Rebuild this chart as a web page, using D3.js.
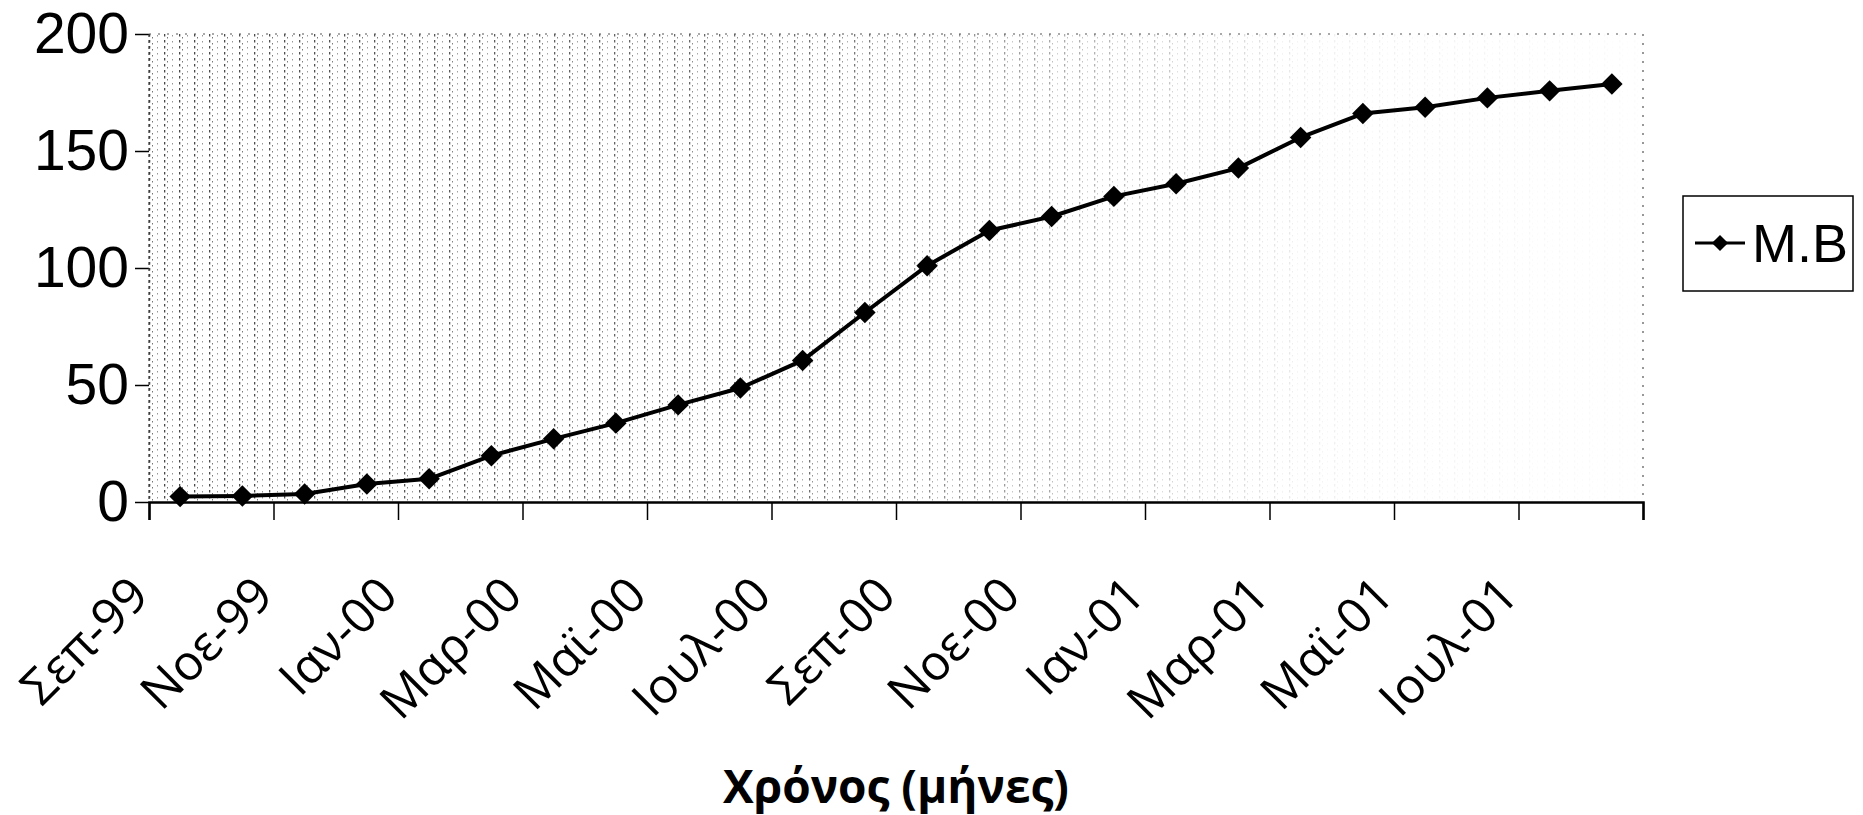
<!DOCTYPE html>
<html>
<head>
<meta charset="utf-8">
<script src="https://cdn.jsdelivr.net/npm/d3@7"></script>
<style>
  body { margin: 0; background: #fff; }
  svg { display: block; }
</style>
</head>
<body>
<div id="chart"></div>
<script>
// months on the category axis (every other one gets a label)
const months = ["Σεπ-99", "Οκτ-99", "Νοε-99", "Δεκ-99", "Ιαν-00", "Φεβ-00", "Μαρ-00", "Απρ-00",
  "Μαϊ-00", "Ιουν-00", "Ιουλ-00", "Αυγ-00", "Σεπ-00", "Οκτ-00", "Νοε-00", "Δεκ-00",
  "Ιαν-01", "Φεβ-01", "Μαρ-01", "Απρ-01", "Μαϊ-01", "Ιουν-01", "Ιουλ-01", "Αυγ-01"];
const mbValues = [2.3, 2.6, 3.4, 7.7, 9.9, 19.8, 27, 33.7, 41.5, 48.7, 60.5, 81,
  101, 116, 122, 130.6, 136, 142.7, 155.8, 166, 168.7, 172.7, 175.7, 178.6];
const yTicks = [0, 50, 100, 150, 200];
const seriesName = "M.B";
const xTitle = "Χρόνος (μήνες)";

const width = 1863;
const height = 815;
const margin = {top: 34, right: 220, bottom: 313, left: 149};
const visWidth = width - margin.left - margin.right;
const visHeight = height - margin.top - margin.bottom;

const data = months.map((m, i) => ({month: m, value: mbValues[i]}));

const svg = d3.select("#chart")
  .append("svg")
    .attr("width", width)
    .attr("height", height);

// scanned-looking stipple in the plot area, fading to the right
const defs = svg.append("defs");
const pat = defs.append("pattern")
    .attr("id", "stipple")
    .attr("patternUnits", "userSpaceOnUse")
    .attr("width", 15)
    .attr("height", 6);
pat.append("rect").attr("x", 0).attr("y", 0).attr("width", 1.3).attr("height", 2.5).attr("fill", "#333");
pat.append("rect").attr("x", 3).attr("y", 3).attr("width", 1).attr("height", 1.5).attr("fill", "#666");
pat.append("rect").attr("x", 8).attr("y", 1).attr("width", 1).attr("height", 1.5).attr("fill", "#888");

const grad = defs.append("linearGradient").attr("id", "fade");
grad.append("stop").attr("offset", "0%").attr("stop-color", "#fff").attr("stop-opacity", 0.9);
grad.append("stop").attr("offset", "45%").attr("stop-color", "#fff").attr("stop-opacity", 0.7);
grad.append("stop").attr("offset", "62%").attr("stop-color", "#fff").attr("stop-opacity", 0.4);
grad.append("stop").attr("offset", "78%").attr("stop-color", "#fff").attr("stop-opacity", 0.08);
grad.append("stop").attr("offset", "100%").attr("stop-color", "#fff").attr("stop-opacity", 0.02);
defs.append("mask").attr("id", "fadeMask")
  .append("rect")
    .attr("width", visWidth)
    .attr("height", visHeight)
    .attr("fill", "url(#fade)");

const g = svg.append("g")
    .attr("transform", "translate(" + margin.left + "," + margin.top + ")");

g.append("rect")
    .attr("width", visWidth)
    .attr("height", visHeight)
    .attr("fill", "url(#stipple)")
    .attr("mask", "url(#fadeMask)");

// plot border (dotted top / right)
g.append("path")
    .attr("d", "M0,0H" + visWidth + "V" + visHeight)
    .attr("fill", "none")
    .attr("stroke", "#555")
    .attr("stroke-width", 1.2)
    .attr("stroke-dasharray", "2,7");

const x = d3.scaleBand()
    .domain(months)
    .range([0, visWidth]);

const xb = d3.scaleLinear()
    .domain([0, months.length])
    .range([0, visWidth]);

const y = d3.scaleLinear()
    .domain([0, 200])
    .range([visHeight, 0]);

// y axis
const yAxis = g.append("g")
    .call(d3.axisLeft(y).tickValues(yTicks).tickSize(14).tickPadding(6));
yAxis.select(".domain").remove();
yAxis.selectAll("line").attr("stroke", "#000").attr("stroke-width", 1.5);
yAxis.selectAll("text")
    .attr("font-family", "'Liberation Sans', Arial, sans-serif")
    .attr("font-size", 57)
    .attr("fill", "#000");
g.append("line")
    .attr("x1", 0).attr("x2", 0)
    .attr("y1", 0).attr("y2", visHeight)
    .attr("stroke", "#333")
    .attr("stroke-width", 1.2)
    .attr("stroke-dasharray", "3,3");

// x axis: tick marks between every second month
const xTickAxis = g.append("g")
    .attr("transform", "translate(0," + visHeight + ")")
    .call(d3.axisBottom(xb).tickValues(d3.range(0, months.length + 1, 2)).tickSize(18).tickFormat(""));
xTickAxis.select(".domain").attr("stroke", "#000").attr("stroke-width", 2.5);
xTickAxis.selectAll("line").attr("stroke", "#000").attr("stroke-width", 1.5);

// x labels, rotated
const xLabelAxis = g.append("g")
    .attr("transform", "translate(0," + visHeight + ")")
    .call(d3.axisBottom(x).tickValues(months.filter((d, i) => i % 2 === 0)).tickSize(0));
xLabelAxis.select(".domain").remove();
xLabelAxis.selectAll("text")
    .attr("font-family", "'Open Sans', sans-serif")
    .attr("font-size", 49)
    .attr("fill", "#000")
    .attr("text-anchor", "end")
    .attr("y", 0)
    .attr("dy", 0)
    .attr("transform", "translate(-29,96) rotate(-45)");

// line + diamonds
const line = d3.line()
    .x(d => x(d.month) + x.bandwidth() / 2)
    .y(d => y(d.value));

g.append("path")
    .datum(data)
    .attr("fill", "none")
    .attr("stroke", "#000")
    .attr("stroke-width", 4)
    .attr("stroke-linejoin", "round")
    .attr("d", line);

const diamond = d3.symbol(d3.symbolSquare, 230);
g.selectAll(".pt")
  .data(data)
  .enter()
  .append("path")
    .attr("class", "pt")
    .attr("d", diamond)
    .attr("fill", "#000")
    .attr("transform", d => "translate(" + (x(d.month) + x.bandwidth() / 2) + "," + y(d.value) + ") rotate(45)");

// axis title
svg.append("text")
    .attr("x", margin.left + visWidth / 2)
    .attr("y", 803)
    .attr("text-anchor", "middle")
    .attr("font-family", "'Open Sans', sans-serif")
    .attr("font-weight", "bold")
    .attr("font-size", 46)
    .text(xTitle);

// legend
const lg = svg.append("g").attr("transform", "translate(1683,196)");
lg.append("rect")
    .attr("width", 170)
    .attr("height", 95)
    .attr("fill", "#fff")
    .attr("stroke", "#000")
    .attr("stroke-width", 1.5);
lg.append("line")
    .attr("x1", 12).attr("x2", 62)
    .attr("y1", 47).attr("y2", 47)
    .attr("stroke", "#000")
    .attr("stroke-width", 3);
lg.append("path")
    .attr("d", d3.symbol(d3.symbolSquare, 130))
    .attr("transform", "translate(37,47) rotate(45)")
    .attr("fill", "#000");
lg.append("text")
    .attr("x", 69)
    .attr("y", 47)
    .attr("dy", "0.36em")
    .attr("font-family", "'Liberation Sans', Arial, sans-serif")
    .attr("font-size", 54)
    .text(seriesName);
</script>
</body>
</html>
